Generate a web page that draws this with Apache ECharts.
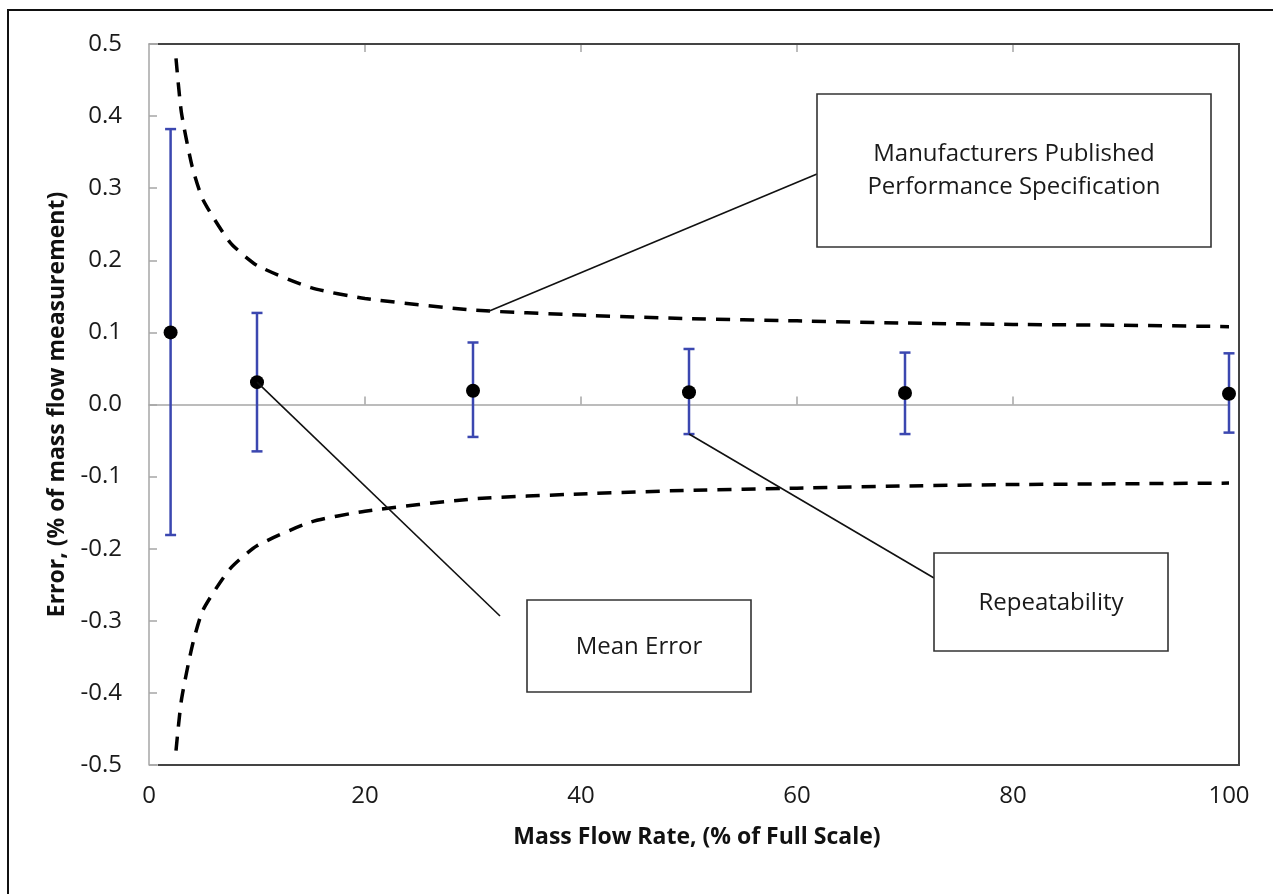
<!DOCTYPE html>
<html><head><meta charset="utf-8">
<script src="https://cdn.jsdelivr.net/npm/echarts@6/dist/echarts.min.js"></script>
<style>html,body{margin:0;padding:0;background:#fff}#c{width:1273px;height:894px}</style>
</head><body><div id="c"></div>
<script>
// ---- data ----
const flowRate   = [2, 10, 30, 50, 70, 100];
const meanError  = [0.100, 0.031, 0.019, 0.017, 0.016, 0.015];
const repeatLow  = [-0.181, -0.065, -0.045, -0.041, -0.041, -0.039];
const repeatHigh = [0.382, 0.127, 0.086, 0.077, 0.072, 0.071];

const specX     = [2.5, 3, 4, 5, 7.5, 10, 15, 20, 30, 40, 50, 60, 70, 80, 90, 100];
const specUpper = [0.48, 0.405, 0.33, 0.284, 0.225, 0.193, 0.162, 0.147, 0.131, 0.124, 0.119, 0.116, 0.113, 0.111, 0.110, 0.108];
const specLower = [-0.48, -0.41, -0.335, -0.285, -0.228, -0.196, -0.163, -0.148, -0.131, -0.124, -0.119, -0.116, -0.113, -0.111, -0.110, -0.109];

const xTicks = [0, 20, 40, 60, 80, 100];
const yTicks = [-0.5, -0.4, -0.3, -0.2, -0.1, 0.0, 0.1, 0.2, 0.3, 0.4, 0.5];

const xTitle = 'Mass Flow Rate, (% of Full Scale)';
const yTitle = 'Error, (% of mass flow measurement)';
const noteSpec = 'Manufacturers Published\nPerformance Specification';
const noteMean = 'Mean Error';
const noteRep  = 'Repeatability';
// anchor points of the callouts (data coordinates)
const anchorSpec = [31.4, 0.129];
const anchorMean = [flowRate[1], meanError[1]];
const anchorRep  = [flowRate[3], repeatLow[3]];

// ---- chart ----
const FONT = '"Open Sans", "Noto Sans", sans-serif';
const GRID = {left: 149, top: 44, width: 1080, height: 721};
const chart = echarts.init(document.getElementById('c'));

const zeroAxisCommon = {
  type: 'value', min: xTicks[0], max: xTicks[xTicks.length - 1], interval: 20,
  axisLine: {show: true, onZero: true, lineStyle: {color: '#a6a6a6', width: 1.5}},
  axisTick: {show: true, inside: true, length: 8, lineStyle: {color: '#a6a6a6', width: 1.5},
             customValues: xTicks.slice(1, -1)},
  axisLabel: {show: false}, splitLine: {show: false}
};

chart.setOption({
  animation: false,
  grid: GRID,
  xAxis: [
    {
      type: 'value', min: xTicks[0], max: xTicks[xTicks.length - 1], interval: 20, position: 'bottom',
      axisLine: {show: false, onZero: false}, axisTick: {show: false}, splitLine: {show: false},
      axisLabel: {fontFamily: FONT, fontSize: 24, color: '#1a1a1a', margin: 19},
      name: xTitle, nameLocation: 'middle', nameGap: 61,
      nameTextStyle: {fontFamily: FONT, fontSize: 23, fontWeight: 'bold', color: '#111', padding: [0, 0, 0, 16]}
    },
    Object.assign({position: 'bottom'}, zeroAxisCommon),
    Object.assign({position: 'top'}, zeroAxisCommon)
  ],
  yAxis: {
    type: 'value', min: yTicks[0], max: yTicks[yTicks.length - 1], interval: 0.1,
    axisLine: {show: true, onZero: false, lineStyle: {color: '#a6a6a6', width: 1.5}},
    axisTick: {show: true, inside: true, length: 8, lineStyle: {color: '#a6a6a6', width: 1.5}},
    splitLine: {show: false},
    axisLabel: {fontFamily: FONT, fontSize: 24, color: '#1a1a1a', margin: 27,
      formatter: v => (Math.abs(v) < 1e-9 ? 0 : v).toFixed(1)},
    name: yTitle, nameLocation: 'middle', nameGap: 80, nameRotate: 90,
    nameTextStyle: {fontFamily: FONT, fontSize: 23, fontWeight: 'bold', color: '#111'}
  },
  series: [
    {
      name: 'Spec upper', type: 'line', xAxisIndex: 0,
      data: specX.map((x, i) => [x, specUpper[i]]),
      showSymbol: false, smooth: 0.2,
      lineStyle: {color: '#000', width: 3.5, type: [14, 10]}, z: 3
    },
    {
      name: 'Spec lower', type: 'line', xAxisIndex: 0,
      data: specX.map((x, i) => [x, specLower[i]]),
      showSymbol: false, smooth: 0.2,
      lineStyle: {color: '#000', width: 3.5, type: [14, 10]}, z: 3
    },
    {
      name: 'Repeatability', type: 'custom', xAxisIndex: 0,
      data: flowRate.map((x, i) => [x, repeatLow[i], repeatHigh[i]]),
      encode: {x: 0, y: [1, 2]},
      renderItem: function (params, api) {
        const x = api.value(0);
        const lo = api.coord([x, api.value(1)]);
        const hi = api.coord([x, api.value(2)]);
        const cap = 5.5;
        const style = {stroke: '#3b47b0', lineWidth: 2.5};
        return {
          type: 'group',
          children: [
            {type: 'line', shape: {x1: lo[0], y1: lo[1], x2: hi[0], y2: hi[1]}, style},
            {type: 'line', shape: {x1: lo[0] - cap, y1: lo[1], x2: lo[0] + cap, y2: lo[1]}, style},
            {type: 'line', shape: {x1: hi[0] - cap, y1: hi[1], x2: hi[0] + cap, y2: hi[1]}, style}
          ]
        };
      },
      z: 4
    },
    {
      name: 'Mean Error', type: 'scatter', xAxisIndex: 0,
      data: flowRate.map((x, i) => [x, meanError[i]]),
      symbol: 'circle', symbolSize: 14,
      itemStyle: {color: '#000', opacity: 1}, z: 5
    }
  ]
});

// ---- annotations / frames ----
const px = p => chart.convertToPixel({xAxisIndex: 0, yAxisIndex: 0}, p);
const L = GRID.left, T = GRID.top, B = GRID.top + GRID.height, R = 1239, Ld = 158;
const pSpec = px(anchorSpec), pMean = px(anchorMean), pRep = px(anchorRep);
const lineStyle = {stroke: '#111', lineWidth: 1.6};
const boxStyle = {stroke: '#333', lineWidth: 1.6, fill: '#fff'};
const textStyle = (t, x, y) => ({text: t, x: x, y: y, align: 'center', verticalAlign: 'middle',
  font: '24px ' + FONT, fill: '#1a1a1a', lineHeight: 33});

chart.setOption({
  graphic: [
    // outer figure border (only top & left visible)
    {type: 'polyline', shape: {points: [[8, 900], [8, 10], [1280, 10]]}, style: {stroke: '#111', lineWidth: 2, fill: null}, z: 10},
    // plot frame
    {type: 'line', shape: {x1: L, y1: T, x2: Ld, y2: T}, style: {stroke: '#a6a6a6', lineWidth: 1.5}, z: 10},
    {type: 'line', shape: {x1: L, y1: B, x2: Ld, y2: B}, style: {stroke: '#a6a6a6', lineWidth: 1.5}, z: 10},
    {type: 'polyline', shape: {points: [[Ld, T], [R, T], [R, B], [Ld, B]]}, style: {stroke: '#444', lineWidth: 2, fill: null}, z: 10},
    // callout lines
    {type: 'line', shape: {x1: pSpec[0], y1: pSpec[1], x2: 817, y2: 174}, style: lineStyle, z: 10},
    {type: 'line', shape: {x1: pMean[0], y1: pMean[1], x2: 500, y2: 616}, style: lineStyle, z: 10},
    {type: 'line', shape: {x1: pRep[0], y1: pRep[1], x2: 934, y2: 578}, style: lineStyle, z: 10},
    // boxes
    {type: 'rect', shape: {x: 817, y: 94, width: 394, height: 153}, style: boxStyle, z: 11},
    {type: 'text', style: textStyle(noteSpec, 1014, 171), z: 12},
    {type: 'rect', shape: {x: 527, y: 600, width: 224, height: 92}, style: boxStyle, z: 11},
    {type: 'text', style: textStyle(noteMean, 639, 647), z: 12},
    {type: 'rect', shape: {x: 934, y: 553, width: 234, height: 98}, style: boxStyle, z: 11},
    {type: 'text', style: textStyle(noteRep, 1051, 603), z: 12}
  ]
});
</script>
</body></html>
